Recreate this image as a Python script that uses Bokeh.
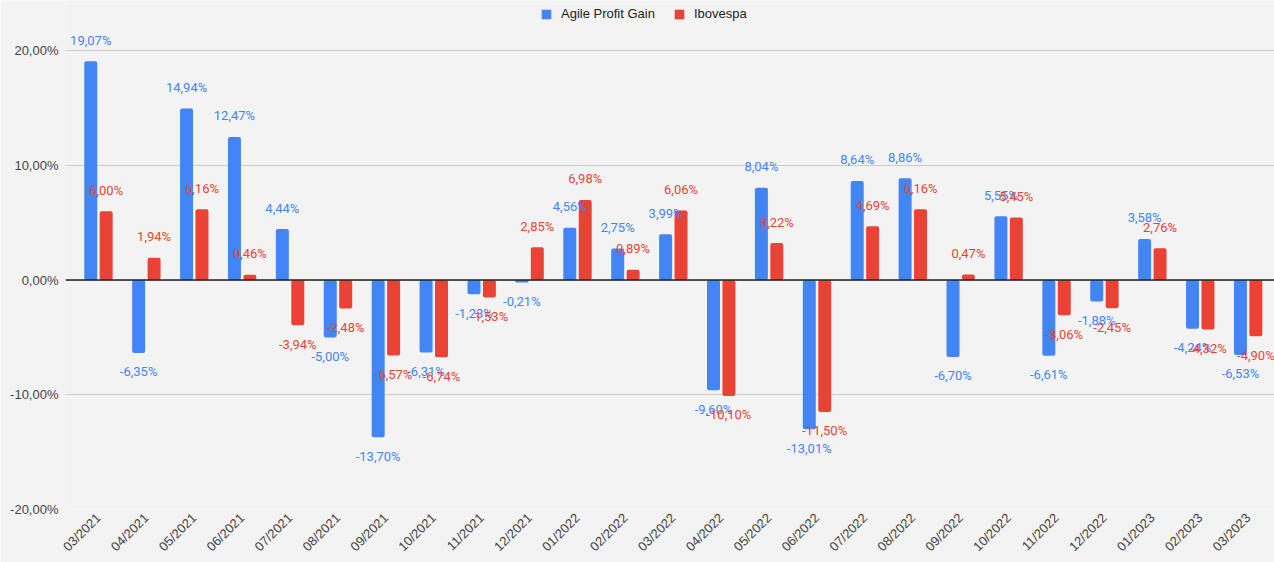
import numpy as np
from bokeh.plotting import figure
from bokeh.models import ColumnDataSource, Range1d, FixedTicker, Span, Legend, LegendItem
from bokeh.core.properties import value
from bokeh.embed import file_html
from bokeh.resources import INLINE

months = ["03/2021", "04/2021", "05/2021", "06/2021", "07/2021", "08/2021", "09/2021",
          "10/2021", "11/2021", "12/2021", "01/2022", "02/2022", "03/2022", "04/2022",
          "05/2022", "06/2022", "07/2022", "08/2022", "09/2022", "10/2022", "11/2022",
          "12/2022", "01/2023", "02/2023", "03/2023"]
agile = [19.07, -6.35, 14.94, 12.47, 4.44, -5.00, -13.70, -6.31, -1.23, -0.21, 4.56, 2.75,
         3.99, -9.60, 8.04, -13.01, 8.64, 8.86, -6.70, 5.55, -6.61, -1.88, 3.58, -4.24, -6.53]
ibovespa = [6.00, 1.94, 6.16, 0.46, -3.94, -2.48, -6.57, -6.74, -1.53, 2.85, 6.98, 0.89,
            6.06, -10.10, 3.22, -11.50, 4.69, 6.16, 0.47, 5.45, -3.06, -2.45, 2.76, -4.32, -4.90]
y_ticks = [-20, -10, 0, 10, 20]

BLUE = "#4285F4"
RED = "#EA4335"
BG = "#f3f3f3"

def fmt(v):
    return f"{v:.2f}".replace(".", ",") + "%"

idx = np.arange(len(months))
OFF = 0.161
BW = 0.271

def make_src(vals, shift):
    vals = np.array(vals)
    return ColumnDataSource(dict(
        x=idx + shift,
        top=vals,
        label=[fmt(v) for v in vals],
        yoff=np.where(vals >= 0, -21, 19),
    ))

src_a = make_src(agile, -OFF)
src_i = make_src(ibovespa, OFF)

p = figure(width=1274, height=562, output_backend="svg", toolbar_location=None,
           x_range=Range1d(-0.688, 24.55), y_range=Range1d(-20, 24.36),
           background_fill_color=BG, border_fill_color=BG,
           min_border_top=0, min_border_left=65, min_border_right=0, min_border_bottom=53)
p.outline_line_color = None

ra = p.vbar(x="x", top="top", bottom=0, width=BW, source=src_a, fill_color=BLUE,
            line_color=None, border_radius=2)
ri = p.vbar(x="x", top="top", bottom=0, width=BW, source=src_i, fill_color=RED,
            line_color=None, border_radius=2)

p.add_layout(Span(location=0, dimension="width", line_color="#222222", line_width=1.3))

for src, col in ((src_a, BLUE), (src_i, RED)):
    p.text(x="x", y="top", text="label", source=src, y_offset="yoff",
           text_align="center", text_baseline="middle", text_color=col,
           text_font=value("Roboto"), text_font_size="13px")

# axes
p.xaxis.ticker = FixedTicker(ticks=list(idx))
p.xaxis.major_label_overrides = {int(i): m for i, m in zip(idx, months)}
p.xaxis.major_label_orientation = np.pi / 4
p.xaxis.axis_line_color = None
p.xaxis.major_tick_line_color = None
p.xaxis.minor_tick_line_color = None
p.xaxis.major_tick_out = 0
p.xaxis.major_label_text_font = "Liberation Sans"
p.xaxis.major_label_text_font_size = "13px"
p.xaxis.major_label_text_color = "#444444"
p.xaxis.major_label_standoff = 6

p.yaxis.ticker = FixedTicker(ticks=y_ticks)
p.yaxis.major_label_overrides = {t: f"{t},00%" for t in y_ticks}
p.yaxis.axis_line_color = None
p.yaxis.major_tick_line_color = None
p.yaxis.minor_tick_line_color = None
p.yaxis.major_tick_out = 0
p.yaxis.major_label_text_font = "Liberation Sans"
p.yaxis.major_label_text_font_size = "13px"
p.yaxis.major_label_text_color = "#444444"
p.yaxis.major_label_standoff = 7

p.xgrid.grid_line_color = None
p.ygrid.grid_line_color = "#cccccc"
p.ygrid.grid_line_width = 1

legend = Legend(items=[LegendItem(label="Agile Profit Gain", renderers=[ra]),
                       LegendItem(label="Ibovespa", renderers=[ri])],
                orientation="horizontal", location=(475, 488),
                background_fill_alpha=0, border_line_color=None,
                label_text_font="Liberation Sans", label_text_font_size="13px",
                label_text_color="#222222", glyph_width=12, glyph_height=12,
                label_height=13, padding=0, margin=0, spacing=18, label_standoff=9)
p.add_layout(legend)

open("out.html", "w").write(file_html(p, INLINE))
